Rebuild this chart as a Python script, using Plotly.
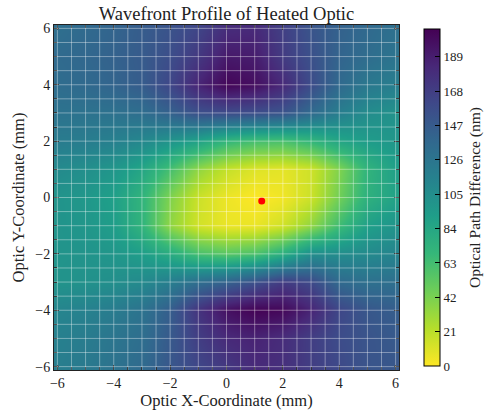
import numpy as np
import plotly.graph_objects as go

# Grid coordinates (mm)
x_mm = [-6, -5, -4, -3, -2, -1, 0, 1, 2, 3, 4, 5, 6]
y_mm = [-6, -5, -4, -3, -2, -1, 0, 1, 2, 3, 4, 5, 6]

# Optical path difference (nm), rows = y from -6 to 6, columns = x from -6 to 6
opd_y_m6 = [118, 122, 128, 135, 150, 162, 172, 182, 178, 168, 160, 152, 150]
opd_y_m5 = [116, 120, 126, 132, 148, 168, 182, 186, 180, 168, 158, 152, 148]
opd_y_m4 = [112, 115, 120, 128, 145, 175, 197, 205, 202, 185, 162, 150, 145]
opd_y_m3 = [100, 102, 104, 108, 118, 132, 142, 155, 170, 160, 136, 130, 131]
opd_y_m2 = [100, 100, 98, 92, 80, 62, 55, 60, 78, 105, 106, 108, 113]
opd_y_m1 = [100, 98, 92, 72, 35, 14, 6, 6, 15, 35, 65, 90, 100]
opd_y_0 = [100, 97, 90, 72, 40, 16, 5, 0, 4, 16, 45, 75, 88]
opd_y_1 = [108, 104, 98, 85, 62, 35, 18, 10, 8, 15, 40, 72, 90]
opd_y_2 = [120, 119, 116, 110, 100, 88, 70, 62, 60, 70, 85, 93, 98]
opd_y_3 = [128, 128, 129, 132, 142, 155, 158, 156, 152, 135, 118, 106, 101]
opd_y_4 = [133, 136, 140, 146, 162, 185, 203, 198, 182, 158, 136, 123, 118]
opd_y_5 = [135, 138, 142, 147, 157, 172, 192, 190, 170, 155, 140, 133, 127]
opd_y_6 = [131, 136, 140, 146, 153, 163, 180, 182, 167, 152, 142, 136, 130]

opd = [opd_y_m6, opd_y_m5, opd_y_m4, opd_y_m3, opd_y_m2, opd_y_m1, opd_y_0,
       opd_y_1, opd_y_2, opd_y_3, opd_y_4, opd_y_5, opd_y_6]

# Marked point (minimum OPD location)
peak_x = [1.25]
peak_y = [-0.12]

cbar_ticks = [0, 21, 42, 63, 84, 105, 126, 147, 168, 189]
axis_ticks = [-6, -4, -2, 0, 2, 4, 6]

FONT = "Liberation Serif"

fig = go.Figure()
fig.add_trace(go.Heatmap(
    x=x_mm, y=y_mm, z=opd,
    colorscale="Viridis", reversescale=True,
    zmin=0, zmax=206, zsmooth="best",
    colorbar=dict(
        x=1.072, xanchor="left", y=0.5, yanchor="middle",
        len=0.977, lenmode="fraction", thickness=16, ypad=0, xpad=0,
        outlinecolor="black", outlinewidth=1,
        tickvals=cbar_ticks, ticks="inside", ticklen=5, tickcolor="black",
        tickfont=dict(family=FONT, size=13, color="#222"),
        title=dict(text="Optical Path Difference (nm)", side="right",
                   font=dict(family=FONT, size=15.5, color="#222")),
    ),
    showscale=True,
))
fig.add_trace(go.Scatter(
    x=peak_x, y=peak_y, mode="markers",
    marker=dict(color="red", size=7), showlegend=False,
))

# grid lines on top of the image
grid_pos = np.arange(-6, 6.01, 0.5)
shapes = []
for g in grid_pos:
    shapes.append(dict(type="line", xref="x", yref="paper", x0=g, x1=g, y0=0, y1=1,
                       line=dict(color="rgba(255,255,255,0.38)", width=1), layer="above"))
    shapes.append(dict(type="line", xref="paper", yref="y", x0=0, x1=1, y0=g, y1=g,
                       line=dict(color="rgba(255,255,255,0.38)", width=1), layer="above"))

axis_common = dict(
    range=[-6.12, 6.12], tickvals=axis_ticks, ticks="inside", ticklen=5,
    tickcolor="black", showline=True, linecolor="#222", linewidth=1, mirror="allticks",
    showgrid=False, zeroline=False,
    tickfont=dict(family=FONT, size=14, color="#222"),
    minor=dict(dtick=0.5, tick0=0, ticks="inside", ticklen=3, tickcolor="black", showgrid=False),
)

fig.update_layout(
    width=489, height=411,
    margin=dict(l=54, r=90, t=25, b=41, autoexpand=False),
    paper_bgcolor="white", plot_bgcolor="white",
    title=dict(text="Wavefront Profile of Heated Optic", x=0.5, xref="paper",
               y=0.982, yanchor="top", font=dict(family=FONT, size=18.5, color="#222")),
    xaxis=dict(**axis_common, title=dict(text="Optic X-Coordinate (mm)", standoff=3,
               font=dict(family=FONT, size=16.5, color="#222"))),
    yaxis=dict(**axis_common, title=dict(text="Optic Y-Coordinate (mm)", standoff=6,
               font=dict(family=FONT, size=16.5, color="#222"))),
    shapes=shapes,
    showlegend=False,
)

fig.write_html("out.html")
